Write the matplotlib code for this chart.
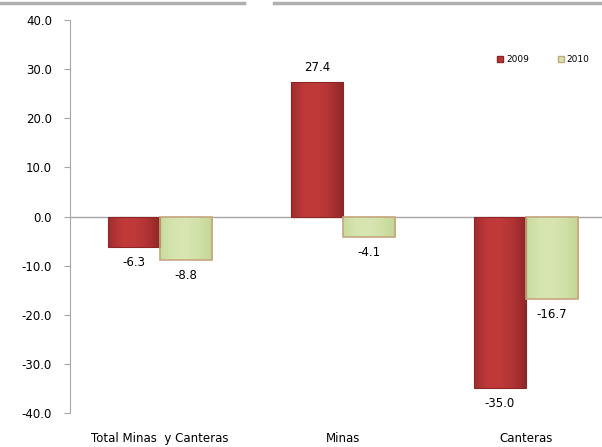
import numpy as np
import matplotlib
matplotlib.use('Agg')
import matplotlib.pyplot as plt
from matplotlib.colors import LinearSegmentedColormap
from matplotlib.patches import Patch

categories = ['Total Minas  y Canteras', 'Minas', 'Canteras']
series_2009 = [-6.3, 27.4, -35.0]
series_2010 = [-8.8, -4.1, -16.7]
yticks = [40, 30, 20, 10, 0, -10, -20, -30, -40]

red = '#B93535'
red_edge = '#8E2626'
green = '#D4E3AC'
green_edge = '#C6A77E'

fig = plt.figure(figsize=(6.02, 4.47), dpi=100)
ax = fig.add_axes([0.1163, 0.0761, 0.8837, 0.879])

x = np.arange(len(categories))
w = 0.285
b1 = ax.bar(x - w / 2, series_2009, w, color=red, edgecolor=red_edge, linewidth=0.8, label='2009')
b2 = ax.bar(x + w / 2, series_2010, w, color=green, edgecolor=green_edge, linewidth=1.2, label='2010')

# soft bevel shading on each bar
red_cm = LinearSegmentedColormap.from_list('r', ['#A02E2E', '#BF3939', '#C03A3A', '#B03333', '#8E2727'])
green_cm = LinearSegmentedColormap.from_list('g', ['#C9DB9E', '#D6E5B0', '#D8E6B3', '#D0E0A6', '#C2D596'])
grad = np.linspace(0, 1, 64).reshape(1, -1)
for bars, cm in [(b1, red_cm), (b2, green_cm)]:
    for p in bars:
        x0, y0 = p.get_x(), p.get_y()
        im = ax.imshow(grad, cmap=cm, aspect='auto', zorder=p.get_zorder(),
                       extent=[x0, x0 + p.get_width(), y0, y0 + p.get_height()])
        im.set_clip_path(p)
        p.set_facecolor('none')
        p.set_zorder(p.get_zorder() + 0.1)

ax.set_xlim(-0.492, 2.415)
ax.set_ylim(-40, 40)

ax.bar_label(b1, fmt='%.1f', padding=6, fontsize=8.5)
ax.bar_label(b2, fmt='%.1f', padding=7, fontsize=8.5)

ax.axhline(0, color='#A6A6A6', linewidth=1, zorder=0)

ax.set_yticks(yticks)
ax.set_yticklabels(['%.1f' % v for v in yticks], fontsize=8.5)
ax.set_xticks(x)
ax.set_xticklabels(categories, fontsize=8.5)
ax.tick_params(axis='x', length=0, pad=14)
ax.tick_params(axis='y', length=4, color='#A6A6A6', pad=9)

for s in ['top', 'right', 'bottom']:
    ax.spines[s].set_visible(False)
ax.spines['left'].set_color('#A6A6A6')

handles = [Patch(facecolor=red, edgecolor=red_edge, label='2009'),
           Patch(facecolor=green, edgecolor=green_edge, label='2010')]
fig.legend(handles=handles, loc='center left', bbox_to_anchor=(0.812, 0.866),
           ncol=2, frameon=False, fontsize=6.5, handlelength=0.7, handleheight=0.7,
           handletextpad=0.3, columnspacing=3.2)

# frame remnants at top edge
fig.add_artist(plt.Line2D([0, 0.405], [0.994, 0.994], color='#B0B0B0', linewidth=2.5))
fig.add_artist(plt.Line2D([0.455, 1], [0.994, 0.994], color='#B0B0B0', linewidth=2.5))

fig.savefig('out.png', dpi=100)
